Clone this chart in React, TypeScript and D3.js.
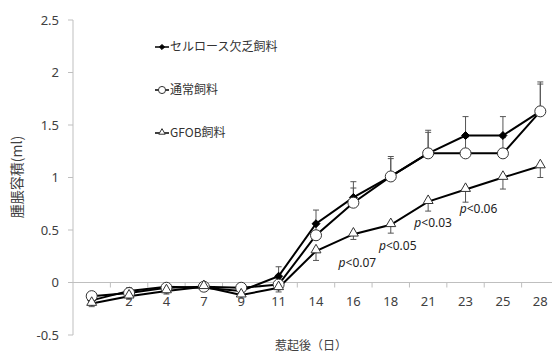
import React from 'react';
import * as d3 from 'd3';

const days = ['1', '2', '4', '7', '9', '11', '14', '16', '18', '21', '23', '25', '28'];

const celluloseMean = [-0.17, -0.08, -0.04, -0.05, -0.08, 0.06, 0.56, 0.81, 1.01, 1.23, 1.40, 1.40, 1.63];
const celluloseErr = [0.03, 0.03, 0.02, 0.02, 0.03, 0.09, 0.13, 0.15, 0.19, 0.22, 0.18, 0.18, 0.28];

const normalMean = [-0.13, -0.10, -0.05, -0.04, -0.05, -0.02, 0.45, 0.76, 1.01, 1.23, 1.23, 1.23, 1.63];
const normalErr = [0.03, 0.03, 0.02, 0.02, 0.03, 0.06, 0.12, 0.14, 0.17, 0.2, 0.15, 0.15, 0.26];

const gfobMean = [-0.20, -0.13, -0.08, -0.04, -0.12, -0.05, 0.30, 0.46, 0.55, 0.77, 0.885, 1.0, 1.11];
const gfobErr = [0.03, 0.03, 0.03, 0.02, 0.03, 0.04, 0.09, 0.05, 0.08, 0.09, 0.12, 0.11, 0.11];

const yTicks = [-0.5, 0, 0.5, 1, 1.5, 2, 2.5];

const legendLabels = ['セルロース欠乏飼料', '通常飼料', 'GFOB飼料'];

// p-value notes placed by day and value
const pDays = ['16', '18', '21', '23'];
const pValues = [0.19, 0.35, 0.57, 0.70];
const pLabels = ['<0.07', '<0.05', '<0.03', '<0.06'];
const pShift = [4, 7, 5, 13];

const W = 552;
const H = 356;
const left = 73;
const right = 559;
const top = 20;
const bottom = 335;

const font = '"Noto Sans", "Noto Sans CJK JP", sans-serif';
const cjk = '"Noto Sans CJK JP", sans-serif';

export default function App() {
  const x = d3.scaleBand<string>().domain(days).range([left, right]).padding(0);
  const cx = (d: string) => (x(d) as number) + x.bandwidth() / 2;
  const y = d3.scaleLinear().domain([-0.5, 2.5]).range([bottom, top]);

  const line = d3
    .line<number>()
    .x((_, i) => cx(days[i]))
    .y((v) => y(v));

  const series = [
    { name: 'cell', mean: celluloseMean, err: celluloseErr, dir: 1, marker: 'diamond' },
    { name: 'normal', mean: normalMean, err: normalErr, dir: 1, marker: 'circle' },
    { name: 'gfob', mean: gfobMean, err: gfobErr, dir: -1, marker: 'triangle' },
  ];

  const drawMarker = (kind: string, px: number, py: number, key: string, s = 1) => {
    if (kind === 'diamond') {
      const d = d3.symbol(d3.symbolDiamond2, 40 * s * s)() as string;
      return <path key={key} d={d} transform={`translate(${px},${py})`} fill="#000" stroke="#000" strokeWidth={1} />;
    }
    if (kind === 'circle') {
      return <circle key={key} cx={px} cy={py} r={5.5 * s} fill="#fff" stroke="#333" strokeWidth={1} />;
    }
    const t = d3.symbol(d3.symbolTriangle2, 70 * s * s)() as string;
    return <path key={key} d={t} transform={`translate(${px},${py - 1 * s})`} fill="#fff" stroke="#333" strokeWidth={1} />;
  };

  const legendY = [47, 90, 133];

  return (
    <svg width={W} height={H} style={{ position: 'absolute', left: 0, top: 0, background: '#fff' }}>
      {/* y axis */}
      <line x1={left} x2={left} y1={top} y2={bottom} stroke="#bfbfbf" />
      {yTicks.map((t) => (
        <g key={t}>
          <line x1={left - 5} x2={left} y1={y(t)} y2={y(t)} stroke="#bfbfbf" />
          <text x={left - 14} y={y(t)} dy="0.35em" textAnchor="end" fontSize={13} fontFamily={font} fill="#404040">
            {t}
          </text>
        </g>
      ))}

      {/* x axis on zero line */}
      <line x1={left} x2={right} y1={y(0)} y2={y(0)} stroke="#bfbfbf" />
      {days.map((d) => (
        <line key={'t' + d} x1={(x(d) as number) + x.bandwidth()} x2={(x(d) as number) + x.bandwidth()} y1={y(0)} y2={y(0) + 5} stroke="#bfbfbf" />
      ))}
      {days.map((d) => (
        <text key={'l' + d} x={cx(d)} y={y(0) + 19} dy="0.35em" textAnchor="middle" fontSize={13} fontFamily={font} fill="#404040">
          {d}
        </text>
      ))}

      {/* error bars */}
      {series.map((s) =>
        s.mean.map((m, i) => {
          const px = cx(days[i]);
          const y2 = y(m + s.dir * s.err[i]);
          return (
            <g key={s.name + 'e' + i} stroke="#555" strokeWidth={1}>
              <line x1={px} x2={px} y1={y(m)} y2={y2} />
              <line x1={px - 3} x2={px + 3} y1={y2} y2={y2} />
            </g>
          );
        })
      )}

      {/* lines */}
      {series.map((s) => (
        <path key={s.name + 'line'} d={line(s.mean) as string} fill="none" stroke="#000" strokeWidth={2} />
      ))}

      {/* markers */}
      {series.map((s) => s.mean.map((m, i) => drawMarker(s.marker, cx(days[i]), y(m), s.name + 'm' + i)))}

      {/* p-values */}
      {pDays.map((d, i) => (
        <text key={'p' + d} x={cx(d) + pShift[i]} y={y(pValues[i])} dy="0.35em" textAnchor="middle" fontSize={12} fontFamily={font} fill="#222">
          <tspan fontStyle="italic">p</tspan>
          {pLabels[i]}
        </text>
      ))}

      {/* legend */}
      {series.map((s, i) => (
        <g key={s.name + 'leg'}>
          <line x1={155} x2={169} y1={legendY[i]} y2={legendY[i]} stroke="#000" strokeWidth={1.5} />
          {drawMarker(s.marker, 162, legendY[i], s.name + 'lm', 0.65)}
          <text x={170} y={legendY[i]} dy="0.35em" fontSize={12} fontFamily={cjk} fill="#333">
            {legendLabels[i]}
          </text>
        </g>
      ))}

      {/* axis titles */}
      <text x={311} y={346} dy="0.35em" textAnchor="middle" fontSize={12} fontFamily={cjk} fill="#404040">
        惹起後（日）
      </text>
      <text transform="translate(17,177) rotate(-90)" dy="0.35em" textAnchor="middle" fontSize={14} fontFamily={cjk} fill="#404040">
        腫脹容積(ml)
      </text>
    </svg>
  );
}
